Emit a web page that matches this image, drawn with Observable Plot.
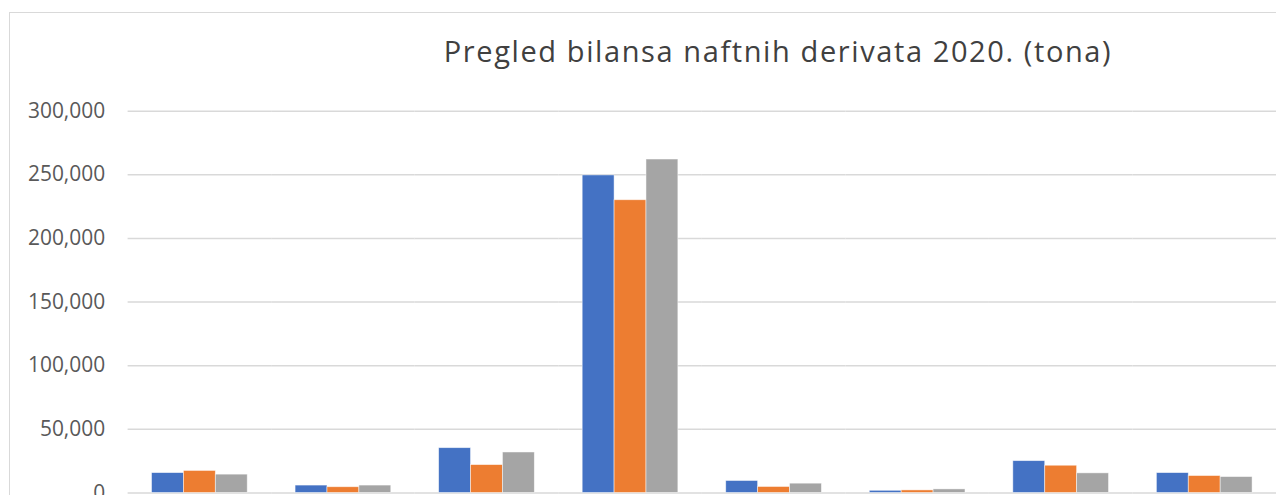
<!DOCTYPE html>
<html>
<head>
<meta charset="utf-8">
<script src="https://cdn.jsdelivr.net/npm/d3@7"></script>
<script src="https://cdn.jsdelivr.net/npm/@observablehq/plot@0.6"></script>
<style>
  html, body { margin: 0; padding: 0; background: #fff; overflow: hidden; width: 1276px; height: 495px; }
  #frame { position: absolute; left: 9px; top: 12px; width: 1300px; height: 600px;
           border-left: 1.5px solid #d9d9d9; border-top: 1.5px solid #d9d9d9; box-sizing: border-box; }
  #title { position: absolute; left: 278px; width: 1000px; top: 36px; text-align: center;
           font-family: "Open Sans", sans-serif; font-size: 29px; line-height: 29px; letter-spacing: 1.6px;
           color: #404040; white-space: nowrap; }
  #chart { position: absolute; left: 0; top: 0; }
</style>
</head>
<body>
<div id="frame"></div>
<div id="title">Pregled bilansa naftnih derivata 2020. (tona)</div>
<div id="chart"></div>
<script>
// Categories (x-axis labels are cut off in the reference)
const categories = ["TNG", "Primarni benzin", "Motorni benzin", "Dizel gorivo", "Mlazno gorivo", "Ulje za loženje", "Bitumen", "Ostali derivati"];
const series = ["Uvoz", "Potrošnja", "Promet"];
const seriesColors = ["#4472C4", "#ED7D31", "#A5A5A5"];
const valuesA = [15600, 5800, 35200, 249500, 9400, 1700, 25000, 15600];
const valuesB = [17300, 4500, 21900, 230000, 4700, 2000, 21400, 13300];
const valuesC = [14400, 5800, 31800, 262000, 7300, 2800, 15400, 12500];
const yTicks = [0, 50000, 100000, 150000, 200000, 250000, 300000];

const seriesValues = [valuesA, valuesB, valuesC];
const data = categories.flatMap((c, i) => series.map((s, j) => ({cat: c, series: s, value: seriesValues[j][i]})));

const chart = Plot.plot({
  width: 1280,
  height: 495,
  marginLeft: 128,
  marginRight: 0,
  marginTop: 111,
  marginBottom: 1,
  style: {fontFamily: "Open Sans, sans-serif", fontSize: "21px", color: "#595959", background: "transparent", overflow: "visible"},
  fx: {domain: categories, padding: 0, axis: null, round: false},
  x: {domain: series, paddingInner: 0, paddingOuter: 0.75, axis: null, round: false},
  y: {domain: [0, 300000], axis: null},
  color: {domain: series, range: seriesColors},
  marks: [
    Plot.gridY(yTicks, {stroke: "#d9d9d9", strokeOpacity: 1, strokeWidth: 1.5}),
    Plot.barY(data, {fx: "cat", x: "series", y: "value", fill: "series", stroke: "#ffffff", strokeOpacity: 0.6, strokeWidth: 0.8}),
    Plot.axisY(yTicks, {anchor: "left", label: null, tickSize: 0, tickPadding: 23, tickFormat: d3.format(","), fill: "#595959", fontSize: 21})
  ]
});
document.getElementById("chart").appendChild(chart);
</script>
</body>
</html>
